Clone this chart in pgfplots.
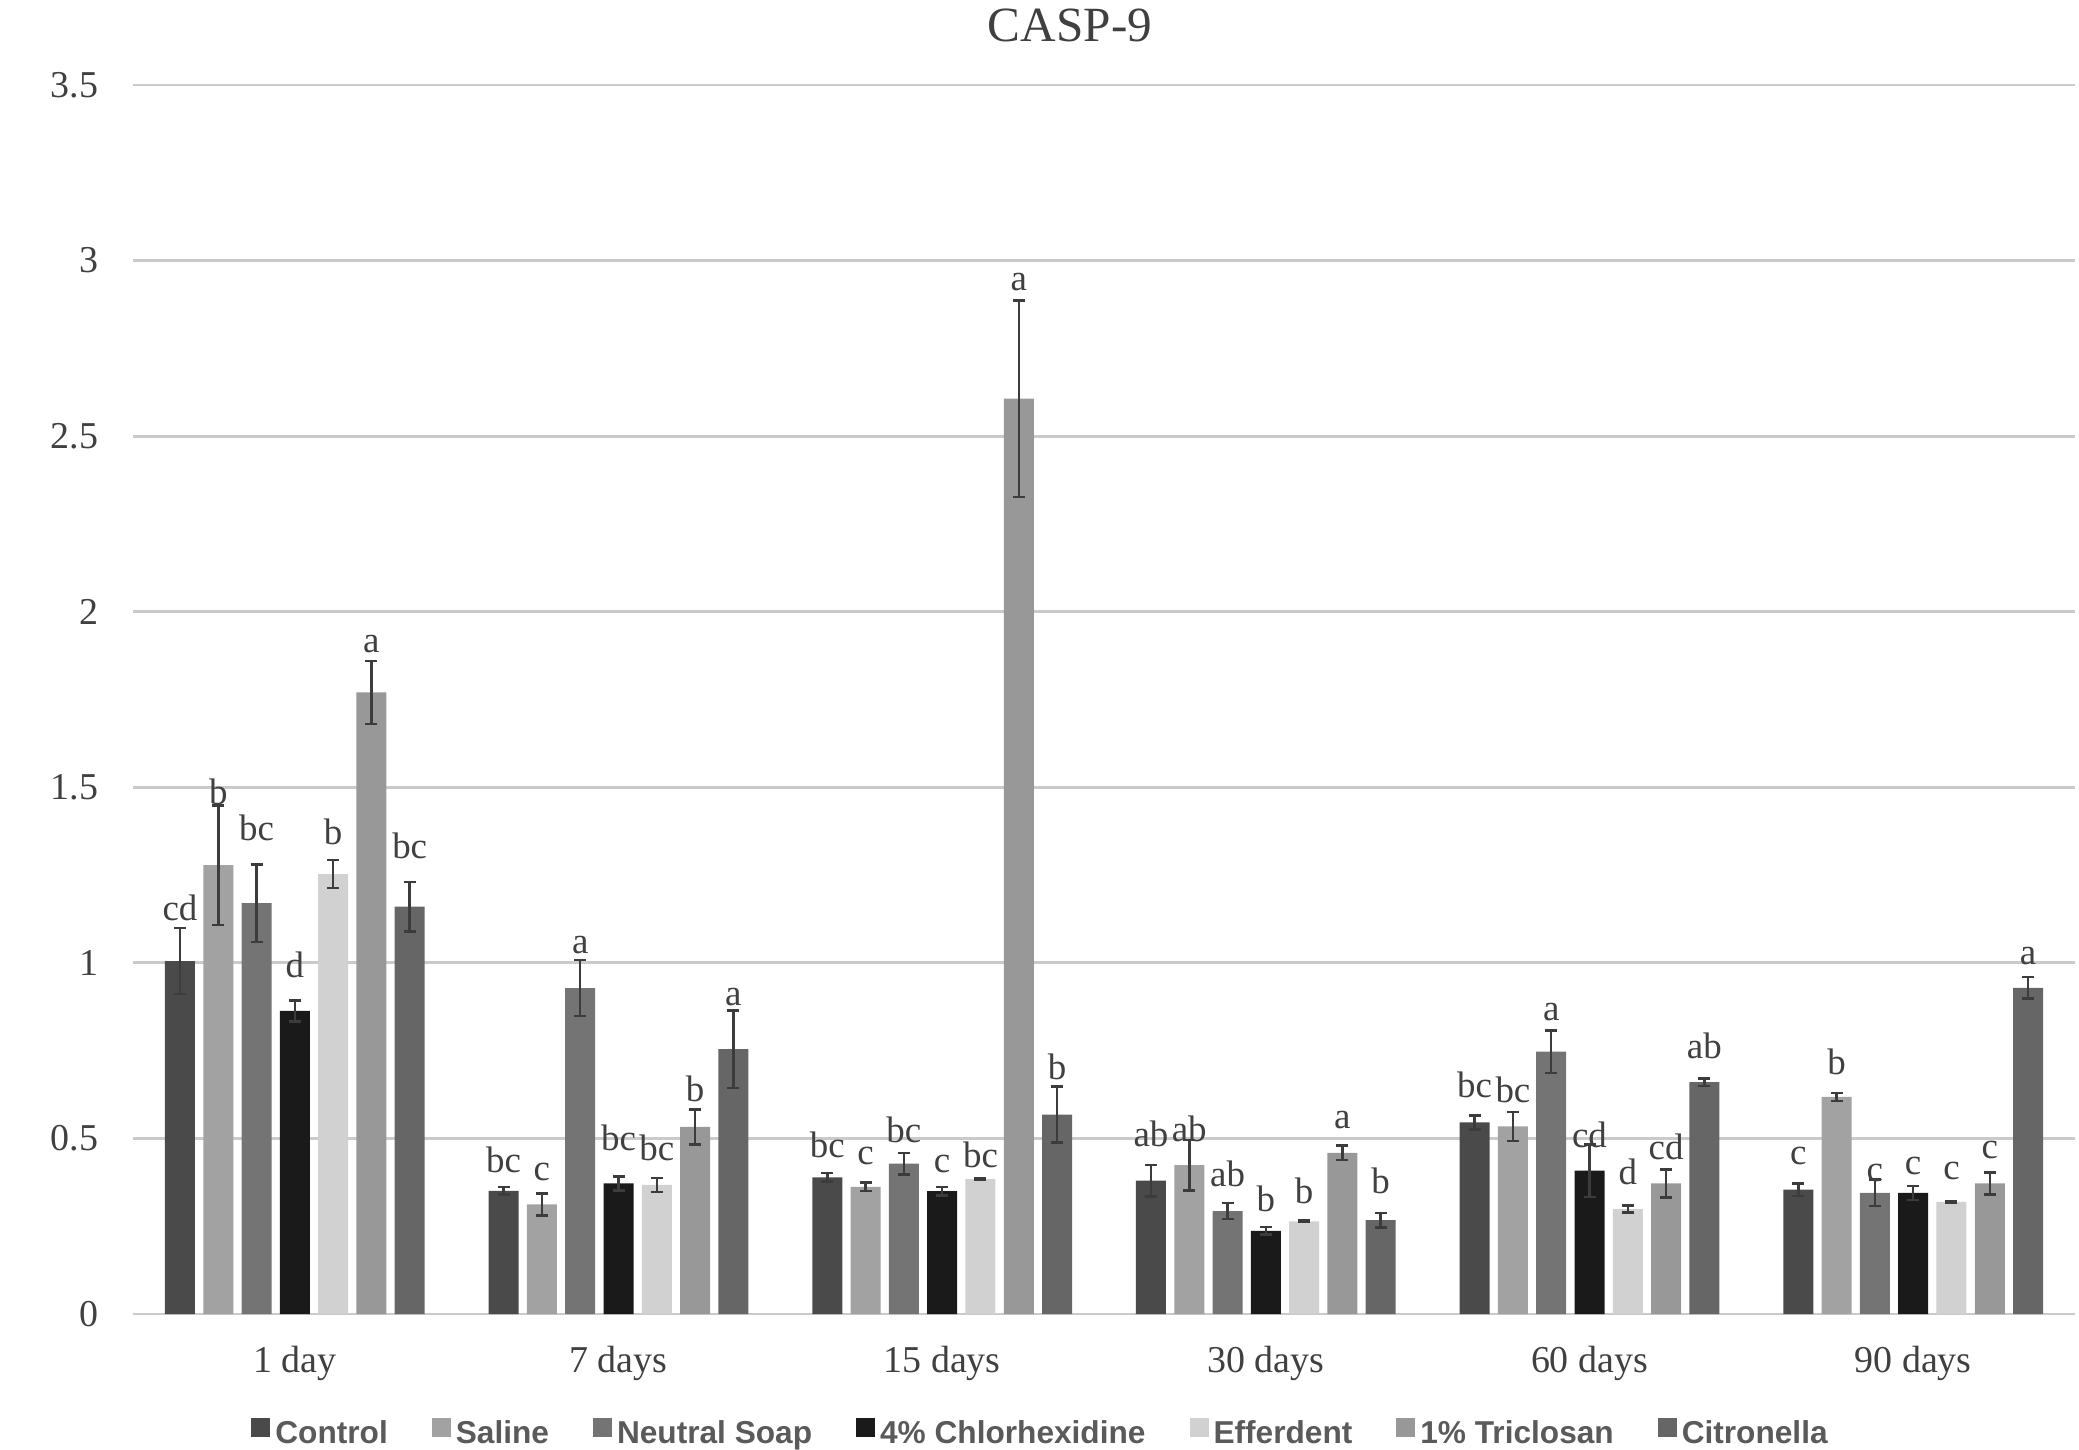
\documentclass[border=0pt]{standalone}
\usepackage{pgfplots}
\pgfplotsset{compat=1.18}
\usepackage{pgfplotstable}
\usepackage{fontspec}
\setmainfont{Liberation Serif}
\newfontfamily\legfont{Liberation Sans}

\definecolor{cControl}{HTML}{4A4A4A}
\definecolor{cSaline}{HTML}{A2A2A2}
\definecolor{cSoap}{HTML}{747474}
\definecolor{cChlor}{HTML}{1A1A1A}
\definecolor{cEff}{HTML}{D1D1D1}
\definecolor{cTric}{HTML}{989898}
\definecolor{cCitr}{HTML}{666666}
\definecolor{txt}{HTML}{404040}
\definecolor{errc}{HTML}{3C3C3C}
\definecolor{gridc}{HTML}{CACACA}
\definecolor{legtxt}{HTML}{5A5A5A}

\pgfplotstableread{
x y err ly lab
0 1.005 0.094 1.121 cd
1 0.351 0.011 0.402 bc
2 0.389 0.012 0.446 bc
3 0.380 0.045 0.478 ab
4 0.546 0.020 0.617 bc
5 0.354 0.018 0.425 c
}\tControl
\pgfplotstableread{
x y err ly lab
0 1.278 0.170 1.452 b
1 0.312 0.031 0.379 c
2 0.362 0.012 0.425 c
3 0.424 0.072 0.492 ab
4 0.534 0.041 0.603 bc
5 0.618 0.011 0.681 b
}\tSaline
\pgfplotstableread{
x y err ly lab
0 1.170 0.110 1.349 bc
1 0.928 0.080 1.026 a
2 0.428 0.031 0.489 bc
3 0.293 0.023 0.363 ab
4 0.747 0.060 0.836 a
5 0.345 0.038 0.377 c
}\tSoap
\pgfplotstableread{
x y err ly lab
0 0.863 0.030 0.957 d
1 0.372 0.020 0.465 bc
2 0.350 0.012 0.403 c
3 0.237 0.011 0.292 b
4 0.408 0.075 0.474 cd
5 0.345 0.020 0.396 c
}\tChlor
\pgfplotstableread{
x y err ly lab
0 1.253 0.040 1.337 b
1 0.368 0.020 0.437 bc
2 0.384 0.003 0.416 bc
3 0.264 0.002 0.315 b
4 0.299 0.010 0.370 d
5 0.319 0.002 0.384 c
}\tEff
\pgfplotstableread{
x y err ly lab
0 1.770 0.090 1.885 a
1 0.533 0.050 0.606 b
2 2.607 0.280 2.914 a
3 0.459 0.021 0.528 a
4 0.372 0.040 0.441 cd
5 0.372 0.031 0.444 c
}\tTric
\pgfplotstableread{
x y err ly lab
0 1.160 0.070 1.297 bc
1 0.754 0.110 0.878 a
2 0.568 0.080 0.669 b
3 0.267 0.021 0.342 b
4 0.660 0.010 0.727 ab
5 0.929 0.031 0.996 a
}\tCitr

\newcommand{\series}[4]{%
  \addplot[ybar, bar width=0.0927, bar shift=0, fill=#2, draw=none,
    legend image code/.code={\fill (0mm,-0.2mm) rectangle (1.9mm,1.7mm);},
    error bars/.cd, y dir=both, y explicit,
    error bar style={line width=0.25mm, draw=errc},
    error mark=-,
    error mark options={rotate=90, line width=0.25mm, draw=errc, mark size=0.6mm}]
    table[x expr=\thisrow{x}+#3, y=y, y error=err]{#1};
  \addlegendentry{#4}
  \addplot[draw=none, mark=none, forget plot, nodes near coords,
    point meta=explicit symbolic,
    nodes near coords style={anchor=base, inner sep=0pt,
      font=\fontsize{10.5}{12}\selectfont, text=txt}]
    table[x expr=\thisrow{x}+#3, y=ly, meta=lab]{#1};
}

\begin{document}
\begin{tikzpicture}
\useasboundingbox (0,0) rectangle (207.9mm,144.9mm);
\begin{axis}[
  at={(13.3mm,13.5mm)}, anchor=south west,
  scale only axis, width=194.2mm, height=122.9mm,
  xmin=-0.5, xmax=5.5, ymin=0, ymax=3.5,
  clip=false,
  axis line style={draw=none},
  major tick length=0pt,
  xtick={0,1,2,3,4,5},
  xticklabels={1 day,7 days,15 days,30 days,60 days,90 days},
  ytick={0,0.5,1,1.5,2,2.5,3,3.5},
  yticklabels={0,0.5,1,1.5,2,2.5,3,3.5},
  ymajorgrids,
  grid style={line width=0.28mm, color=gridc},
  xticklabel style={anchor=base, inner sep=0pt, yshift=-5.8mm,
    font=\fontsize{10.8}{12}\selectfont, text=txt},
  yticklabel style={anchor=east, inner sep=0pt, xshift=-3.4mm,
    font=\fontsize{10.8}{12}\selectfont, text=txt},
  title={CASP-9},
  every axis title/.style={at={(0.4825,1)}, anchor=base, yshift=4.4mm, inner sep=0pt,
    font=\fontsize{14}{16}\selectfont, text=txt},
  legend columns=7,
  legend style={at={(0.4668,0)}, anchor=north, yshift=-10.3mm,
    draw=none, fill=none, inner sep=0pt,
    font=\legfont\bfseries\fontsize{9}{10}\selectfont, text=legtxt,
    nodes={inner sep=0pt},
    /tikz/every odd column/.append style={column sep=0.5mm},
    /tikz/every even column/.append style={column sep=4.4mm}},
]
\series{\tControl}{cControl}{-0.3549}{Control}
\series{\tSaline}{cSaline}{-0.2366}{Saline}
\series{\tSoap}{cSoap}{-0.1183}{Neutral Soap}
\series{\tChlor}{cChlor}{0}{4\% Chlorhexidine}
\series{\tEff}{cEff}{0.1183}{Efferdent}
\series{\tTric}{cTric}{0.2366}{1\% Triclosan}
\series{\tCitr}{cCitr}{0.3549}{Citronella}
\end{axis}
\end{tikzpicture}
\end{document}
